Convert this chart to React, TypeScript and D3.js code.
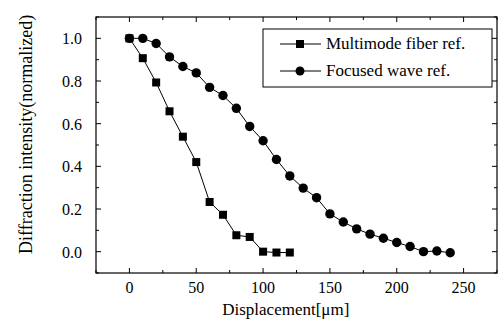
import * as d3 from "d3";
import { useEffect, useRef } from "react";

const displacement = [0, 10, 20, 30, 40, 50, 60, 70, 80, 90, 100, 110, 120, 130, 140, 150, 160, 170, 180, 190, 200, 210, 220, 230, 240];
const multimode = [1.0, 0.907, 0.793, 0.658, 0.539, 0.42, 0.233, 0.173, 0.077, 0.069, 0.0, -0.004, -0.004];
const focused = [1.0, 1.0, 0.976, 0.913, 0.868, 0.838, 0.77, 0.732, 0.672, 0.587, 0.52, 0.432, 0.355, 0.298, 0.253, 0.177, 0.139, 0.107, 0.082, 0.063, 0.043, 0.024, 0.0, 0.003, -0.005];
const xTicks = [0, 50, 100, 150, 200, 250];
const yTicks = [0, 0.2, 0.4, 0.6, 0.8, 1.0];
const legendLabels = ["Multimode fiber ref.", "Focused wave ref."];

const W = 501;
const H = 327;
const FONT = "Liberation Serif, DejaVu Serif, Times, serif";

export default function App() {
  const ref = useRef<SVGSVGElement>(null);

  useEffect(() => {
    if (!ref.current) return;
    const svg = d3.select(ref.current);
    svg.selectAll("*").remove();

    const margin = { top: 17, right: 4, bottom: 54, left: 96 };
    const innerW = W - margin.left - margin.right;
    const innerH = H - margin.top - margin.bottom;

    const g = svg.append("g").attr("transform", `translate(${margin.left},${margin.top})`);

    const x = d3.scaleLinear().domain([-25, 275]).range([0, innerW]);
    const y = d3.scaleLinear().domain([-0.1, 1.1]).range([innerH, 0]);

    // frame
    g.append("rect")
      .attr("width", innerW)
      .attr("height", innerH)
      .attr("fill", "none")
      .attr("stroke", "#000")
      .attr("stroke-width", 1.2);

    const xMinor = d3.range(-25, 276, 25).filter((v) => v % 50 !== 0);
    const yMinor = d3.range(-0.1, 1.11, 0.2);

    // inward ticks on all four sides
    const addX = (vals: number[], len: number) => {
      g.append("g").selectAll("line").data(vals).join("line")
        .attr("x1", (d) => x(d)).attr("x2", (d) => x(d))
        .attr("y1", innerH).attr("y2", innerH - len)
        .attr("stroke", "#000");
      g.append("g").selectAll("line").data(vals).join("line")
        .attr("x1", (d) => x(d)).attr("x2", (d) => x(d))
        .attr("y1", 0).attr("y2", len)
        .attr("stroke", "#000");
    };
    const addY = (vals: number[], len: number) => {
      g.append("g").selectAll("line").data(vals).join("line")
        .attr("y1", (d) => y(d)).attr("y2", (d) => y(d))
        .attr("x1", 0).attr("x2", len)
        .attr("stroke", "#000");
      g.append("g").selectAll("line").data(vals).join("line")
        .attr("y1", (d) => y(d)).attr("y2", (d) => y(d))
        .attr("x1", innerW).attr("x2", innerW - len)
        .attr("stroke", "#000");
    };
    addX(xTicks, 5);
    addX(xMinor, 3);
    addY(yTicks, 5);
    addY(yMinor, 3);

    // tick labels
    g.append("g").selectAll("text").data(xTicks).join("text")
      .attr("x", (d) => x(d))
      .attr("y", innerH + 20)
      .attr("text-anchor", "middle")
      .attr("font-family", FONT)
      .attr("font-size", 16)
      .text((d) => d);

    g.append("g").selectAll("text").data(yTicks).join("text")
      .attr("x", -14)
      .attr("y", (d) => y(d) + 6)
      .attr("text-anchor", "end")
      .attr("font-family", FONT)
      .attr("font-size", 16)
      .text((d) => d.toFixed(1));

    // axis titles
    svg.append("text")
      .attr("x", margin.left + x(117))
      .attr("y", 315)
      .attr("text-anchor", "middle")
      .attr("font-family", FONT)
      .attr("font-size", 17)
      .text("Displacement[μm]");

    svg.append("text")
      .attr("transform", `translate(32,${margin.top + y(0.55)}) rotate(-90)`)
      .attr("text-anchor", "middle")
      .attr("font-family", FONT)
      .attr("font-size", 18)
      .text("Diffraction intensity(normalized)");

    const line = d3.line<number>()
      .x((_, i) => x(displacement[i]))
      .y((d) => y(d));

    // multimode series
    g.append("path").datum(multimode).attr("d", line)
      .attr("fill", "none").attr("stroke", "#000").attr("stroke-width", 1);
    g.append("g").selectAll("rect").data(multimode).join("rect")
      .attr("x", (_, i) => x(displacement[i]) - 4)
      .attr("y", (d) => y(d) - 4)
      .attr("width", 8).attr("height", 8)
      .attr("fill", "#000");

    // focused series
    g.append("path").datum(focused).attr("d", line)
      .attr("fill", "none").attr("stroke", "#000").attr("stroke-width", 1);
    g.append("g").selectAll("circle").data(focused).join("circle")
      .attr("cx", (_, i) => x(displacement[i]))
      .attr("cy", (d) => y(d))
      .attr("r", 4.7)
      .attr("fill", "#000");

    // legend
    const lg = svg.append("g");
    lg.append("rect")
      .attr("x", 263).attr("y", 29)
      .attr("width", 229).attr("height", 58)
      .attr("fill", "#fff").attr("stroke", "#000").attr("stroke-width", 1);
    legendLabels.forEach((label, i) => {
      const cy = 44 + i * 27;
      lg.append("line").attr("x1", 280).attr("x2", 321).attr("y1", cy).attr("y2", cy)
        .attr("stroke", "#000");
      if (i === 0) {
        lg.append("rect").attr("x", 296).attr("y", cy - 4).attr("width", 8).attr("height", 8).attr("fill", "#000");
      } else {
        lg.append("circle").attr("cx", 300).attr("cy", cy).attr("r", 4.5).attr("fill", "#000");
      }
      lg.append("text")
        .attr("x", 326).attr("y", cy + 5)
        .attr("font-family", FONT)
        .attr("font-size", 17)
        .text(label);
    });
  }, []);

  return (
    <svg
      ref={ref}
      width={W}
      height={H}
      style={{ position: "absolute", left: 0, top: 0, background: "#fff" }}
    />
  );
}
